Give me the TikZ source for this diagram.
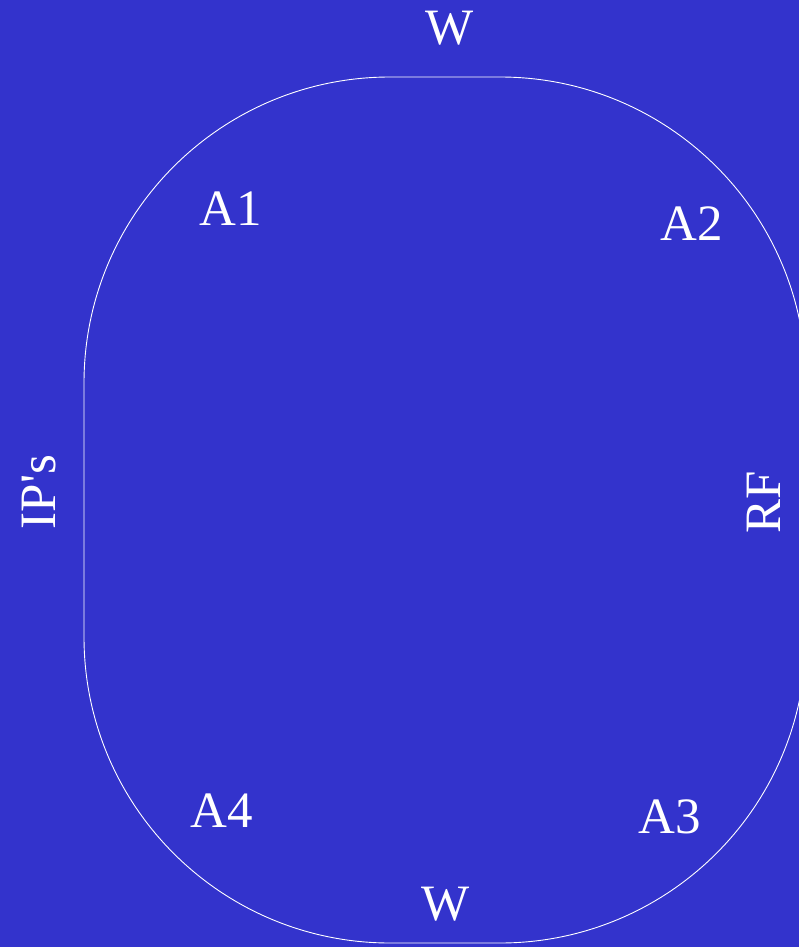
\documentclass[tikz,border=0pt]{standalone}
\usepackage{fontspec}
\setmainfont{Liberation Serif}[Ligatures=TeXOff]
\usetikzlibrary{positioning}
\definecolor{fieldBlue}{RGB}{51, 51, 204}

\begin{document}
\begin{tikzpicture}[
    x=1pt, y=-1pt,
    % Label Style
    fieldLabel/.style={
        text=white,
        inner sep=0pt,
        anchor=base,
        font=\fontsize{51}{60}\selectfont
    },
    % Track Outline Style
    trackLine/.style={
        draw=white,
        line width=0.9pt,
        rounded corners=306pt
    }
]

    % Background and fixed frame
    \useasboundingbox (0,0) rectangle (799,947);
    \fill[fieldBlue] (0,0) rectangle (799,947);

    % Oval track, clipped on the right side
    \begin{scope}
        \clip (0,0) rectangle (799,947);
        \draw[trackLine] (84,77) rectangle (806,943);
    \end{scope}

    % Ends
    \node[fieldLabel] (Wtop) at (450,45) {W};
    \node[fieldLabel] (Wbot) at (446,920) {W};

    % Corners
    \node[fieldLabel] (A1) at (231,225) {A1};
    \node[fieldLabel] (A2) at (692,240) {A2};
    \node[fieldLabel] (A3) at (670,833) {A3};
    \node[fieldLabel] (A4) at (222,827) {A4};

    % Sides
    \node[fieldLabel, rotate=90] (IPs) at (55,492) {IP's};
    \node[fieldLabel, rotate=90] (RF) at (780,502) {RF};

\end{tikzpicture}
\end{document}
